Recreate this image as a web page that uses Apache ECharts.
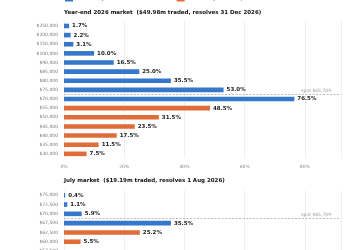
<!DOCTYPE html>
<html>
<head>
<meta charset="utf-8">
<script src="https://cdn.jsdelivr.net/npm/echarts@6/dist/echarts.min.js"></script>
<style>
html, body { margin: 0; padding: 0; overflow: hidden; background: #fff; }
#chart { width: 350px; height: 300px; margin-top: -8px; }
</style>
</head>
<body>
<div id="chart"></div>
<script>
// year-end market
const yearCats = ['$250,000', '$200,000', '$150,000', '$100,000', '$90,000', '$85,000', '$80,000', '$75,000', '$70,000',
    '$55,000', '$50,000', '$45,000', '$40,000', '$35,000', '$30,000'];
const yearReach = [1.7, 2.2, 3.1, 10.0, 16.5, 25.0, 35.5, 53.0, 76.5, null, null, null, null, null, null];
const yearDip = [null, null, null, null, null, null, null, null, null, 48.5, 31.5, 23.5, 17.5, 11.5, 7.5];
const yearSpotRow = 7.5;

// july market (rows below $60,000 are cut off in the picture)
const julyCats = ['$75,000', '$72,500', '$70,000', '$67,500', '$62,500', '$60,000', '$57,500', '$55,000'];
const julyReach = [0.4, 1.1, 5.9, 35.5, null, null, null, null];
const julyDip = [null, null, null, null, 25.2, 5.5, null, null];
const julySpotRow = 2.5;

const spotLabel = 'spot $65,709';
const xTicks = [0, 20, 40, 60, 80];

const blue = '#3577c8';
const orange = '#e06c37';
const font = 'DejaVu Sans';

const chart = echarts.init(document.getElementById('chart'));

function barSeries(name, color, data, idx) {
    return {
        name: name,
        type: 'bar',
        xAxisIndex: idx,
        yAxisIndex: idx,
        data: data,
        barWidth: 4.6,
        barGap: '-100%',
        itemStyle: { color: color },
        label: {
            show: true,
            position: 'right',
            distance: 3,
            fontFamily: font,
            fontSize: 5.5,
            fontWeight: 'bold',
            color: '#222',
            formatter: p => p.value.toFixed(1) + '%'
        },
        animation: false
    };
}

function spotSeries(idx, row) {
    return {
        type: 'line',
        xAxisIndex: idx,
        yAxisIndex: idx + 2,
        data: [],
        silent: true,
        markLine: {
            symbol: 'none',
            silent: true,
            animation: false,
            lineStyle: { color: '#a0a0a0', type: [2, 1.5], width: 0.7 },
            label: {
                show: true,
                position: 'insideEndTop',
                formatter: spotLabel,
                fontFamily: font,
                fontSize: 4.5,
                color: '#999',
                distance: [10, 1]
            },
            data: [{ yAxis: row }]
        }
    };
}

const xAxisBase = {
    type: 'value',
    min: 0,
    max: 92,
    interval: 20,
    axisLine: { show: false },
    axisTick: { show: false },
    splitLine: { lineStyle: { color: '#ebebeb', width: 0.8 } },
    axisLabel: {
        fontFamily: font,
        fontSize: 4.5,
        color: '#888',
        margin: 6,
        showMaxLabel: false,
        formatter: v => xTicks.indexOf(v) >= 0 ? v + '%' : ''
    }
};

const yAxisBase = {
    type: 'category',
    inverse: true,
    axisLine: { show: false },
    axisTick: { show: false },
    axisLabel: { fontFamily: font, fontSize: 4.5, color: '#777', margin: 6 }
};

const titleStyle = { fontFamily: font, fontSize: 5.5, fontWeight: 'bold', color: '#111' };

chart.setOption({
    backgroundColor: '#fff',
    title: [
        { text: 'Year-end 2026 market  ($49.98m traded, resolves 31 Dec 2026)', left: 64, top: 18, padding: 0, textStyle: titleStyle },
        { text: 'July market  ($19.19m traded, resolves 1 Aug 2026)', left: 64, top: 185.5, padding: 0, textStyle: titleStyle }
    ],
    legend: {
        left: 65,
        top: 3.5,
        padding: 0,
        icon: 'rect',
        itemWidth: 8,
        itemHeight: 6,
        itemGap: 8,
        textStyle: { fontFamily: font, fontSize: 5, color: '#555' },
        data: ['Probability Bitcoin reaches this level', 'Probability Bitcoin dips to this level']
    },
    grid: [
        { left: 64, top: 29.4, width: 277, height: 137 },
        { left: 64, top: 198.6, width: 277, height: 74.4 }
    ],
    xAxis: [
        Object.assign({ gridIndex: 0 }, xAxisBase),
        Object.assign({ gridIndex: 1 }, xAxisBase)
    ],
    yAxis: [
        Object.assign({ gridIndex: 0, data: yearCats }, yAxisBase),
        Object.assign({ gridIndex: 1, data: julyCats }, yAxisBase),
        { gridIndex: 0, type: 'value', show: false, inverse: true, min: -0.5, max: yearCats.length - 0.5 },
        { gridIndex: 1, type: 'value', show: false, inverse: true, min: -0.5, max: julyCats.length - 0.5 }
    ],
    series: [
        barSeries('Probability Bitcoin reaches this level', blue, yearReach, 0),
        barSeries('Probability Bitcoin dips to this level', orange, yearDip, 0),
        barSeries('Probability Bitcoin reaches this level', blue, julyReach, 1),
        barSeries('Probability Bitcoin dips to this level', orange, julyDip, 1),
        spotSeries(0, yearSpotRow),
        spotSeries(1, julySpotRow)
    ]
});
</script>
</body>
</html>
